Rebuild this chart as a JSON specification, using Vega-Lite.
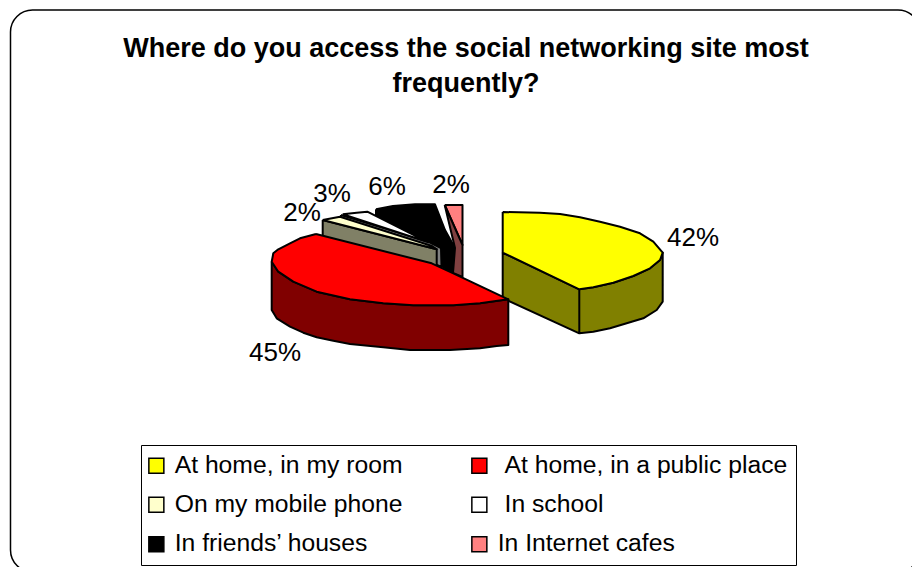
{
  "$schema": "https://vega.github.io/schema/vega-lite/v6.json",
  "width": 912,
  "height": 567,
  "autosize": "none",
  "padding": 0,
  "background": "white",
  "view": {"stroke": null},
  "config": {"font": "Liberation Sans"},
  "title": {
    "text": ["Where do you access the social networking site most", "frequently?"],
    "font": "Liberation Sans",
    "fontSize": 27,
    "fontWeight": "bold",
    "color": "black",
    "anchor": "middle",
    "frame": "group",
    "offset": 0,
    "baseline": "alphabetic",
    "lineHeight": 35,
    "dx": 10,
    "dy": 119
  },
  "datasets": {
    "frame": [{"left": 10.5, "right": 920, "top": 10, "bottom": 572}],
    "slices": [
      {"category": "At home, in my room", "share": 0.42, "lx": 693, "ly": 246},
      {"category": "At home, in a public place", "share": 0.45, "lx": 275, "ly": 361},
      {"category": "Other", "share": 0.02, "lx": 302, "ly": 221},
      {"category": "In school", "share": 0.03, "lx": 332, "ly": 202},
      {"category": "In friends' houses", "share": 0.06, "lx": 387, "ly": 195},
      {"category": "In Internet cafes", "share": 0.02, "lx": 451, "ly": 193}
    ],
    "faces": [
      {"face": "In friends’ houses", "n": 1, "x": 376, "y": 209.3},
      {"face": "In friends’ houses", "n": 2, "x": 393, "y": 206},
      {"face": "In friends’ houses", "n": 3, "x": 415, "y": 204.3},
      {"face": "In friends’ houses", "n": 4, "x": 435, "y": 204.3},
      {"face": "In friends’ houses", "n": 5, "x": 445, "y": 230},
      {"face": "In friends’ houses", "n": 6, "x": 455, "y": 248},
      {"face": "In friends’ houses", "n": 7, "x": 453, "y": 273},
      {"face": "In friends’ houses", "n": 8, "x": 441, "y": 266},
      {"face": "In friends’ houses", "n": 9, "x": 436, "y": 245},
      {"face": "In friends’ houses", "n": 10, "x": 376, "y": 220},
      {"face": "In friends’ houses", "n": 11, "x": 376, "y": 209.3},

      {"face": "In Internet cafes", "n": 1, "x": 444.7, "y": 205},
      {"face": "In Internet cafes", "n": 2, "x": 462.5, "y": 205},
      {"face": "In Internet cafes", "n": 3, "x": 462.5, "y": 245},
      {"face": "In Internet cafes", "n": 4, "x": 444.7, "y": 205},

      {"face": "In Internet cafes, side", "n": 1, "x": 444.7, "y": 205},
      {"face": "In Internet cafes, side", "n": 2, "x": 462.5, "y": 245},
      {"face": "In Internet cafes, side", "n": 3, "x": 462.5, "y": 277},
      {"face": "In Internet cafes, side", "n": 4, "x": 453, "y": 273},
      {"face": "In Internet cafes, side", "n": 5, "x": 455, "y": 248},
      {"face": "In Internet cafes, side", "n": 6, "x": 444.7, "y": 205},

      {"face": "In school, side", "n": 1, "x": 341, "y": 215},
      {"face": "In school, side", "n": 2, "x": 428, "y": 241.5},
      {"face": "In school, side", "n": 3, "x": 441, "y": 248},
      {"face": "In school, side", "n": 4, "x": 441.5, "y": 267},
      {"face": "In school, side", "n": 5, "x": 430, "y": 262},
      {"face": "In school, side", "n": 6, "x": 430, "y": 250},
      {"face": "In school, side", "n": 7, "x": 341, "y": 218},
      {"face": "In school, side", "n": 8, "x": 341, "y": 215},

      {"face": "In school", "n": 1, "x": 342.7, "y": 214.3},
      {"face": "In school", "n": 2, "x": 356.7, "y": 212.7},
      {"face": "In school", "n": 3, "x": 367.3, "y": 211.7},
      {"face": "In school", "n": 4, "x": 428.3, "y": 242.3},
      {"face": "In school", "n": 5, "x": 342.7, "y": 214.3},

      {"face": "On my mobile phone, side", "n": 1, "x": 322.7, "y": 220},
      {"face": "On my mobile phone, side", "n": 2, "x": 436.7, "y": 249.3},
      {"face": "On my mobile phone, side", "n": 3, "x": 436.7, "y": 270},
      {"face": "On my mobile phone, side", "n": 4, "x": 322.7, "y": 240},
      {"face": "On my mobile phone, side", "n": 5, "x": 322.7, "y": 220},

      {"face": "On my mobile phone", "n": 1, "x": 322.7, "y": 220},
      {"face": "On my mobile phone", "n": 2, "x": 340, "y": 216.7},
      {"face": "On my mobile phone", "n": 3, "x": 432, "y": 246},
      {"face": "On my mobile phone", "n": 4, "x": 436.7, "y": 249.3},
      {"face": "On my mobile phone", "n": 5, "x": 322.7, "y": 220},

      {"face": "At home, in my room, side", "n": 1, "x": 502.7, "y": 252.7},
      {"face": "At home, in my room, side", "n": 2, "x": 579.3, "y": 289.3},
      {"face": "At home, in my room, side", "n": 3, "x": 593.3, "y": 287.3},
      {"face": "At home, in my room, side", "n": 4, "x": 613.3, "y": 282.7},
      {"face": "At home, in my room, side", "n": 5, "x": 633.3, "y": 276},
      {"face": "At home, in my room, side", "n": 6, "x": 650, "y": 268.3},
      {"face": "At home, in my room, side", "n": 7, "x": 660, "y": 260},
      {"face": "At home, in my room, side", "n": 8, "x": 662.7, "y": 252.7},
      {"face": "At home, in my room, side", "n": 9, "x": 662.7, "y": 301.7},
      {"face": "At home, in my room, side", "n": 10, "x": 656.7, "y": 310},
      {"face": "At home, in my room, side", "n": 11, "x": 643.3, "y": 318.3},
      {"face": "At home, in my room, side", "n": 12, "x": 626.7, "y": 323.3},
      {"face": "At home, in my room, side", "n": 13, "x": 610, "y": 328.3},
      {"face": "At home, in my room, side", "n": 14, "x": 593.3, "y": 331.7},
      {"face": "At home, in my room, side", "n": 15, "x": 579.3, "y": 333.3},
      {"face": "At home, in my room, side", "n": 16, "x": 579.3, "y": 289.3},
      {"face": "At home, in my room, side", "n": 17, "x": 579.3, "y": 333.3},
      {"face": "At home, in my room, side", "n": 18, "x": 502.7, "y": 298.3},
      {"face": "At home, in my room, side", "n": 19, "x": 502.7, "y": 252.7},

      {"face": "At home, in my room", "n": 1, "x": 502.7, "y": 212},
      {"face": "At home, in my room", "n": 2, "x": 540, "y": 212.7},
      {"face": "At home, in my room", "n": 3, "x": 560, "y": 214},
      {"face": "At home, in my room", "n": 4, "x": 580, "y": 217.3},
      {"face": "At home, in my room", "n": 5, "x": 600, "y": 221.7},
      {"face": "At home, in my room", "n": 6, "x": 620, "y": 226.7},
      {"face": "At home, in my room", "n": 7, "x": 640, "y": 233.3},
      {"face": "At home, in my room", "n": 8, "x": 653.3, "y": 241.7},
      {"face": "At home, in my room", "n": 9, "x": 662.7, "y": 252.7},
      {"face": "At home, in my room", "n": 10, "x": 660, "y": 260},
      {"face": "At home, in my room", "n": 11, "x": 650, "y": 268.3},
      {"face": "At home, in my room", "n": 12, "x": 633.3, "y": 276},
      {"face": "At home, in my room", "n": 13, "x": 613.3, "y": 282.7},
      {"face": "At home, in my room", "n": 14, "x": 593.3, "y": 287.3},
      {"face": "At home, in my room", "n": 15, "x": 579.3, "y": 289.3},
      {"face": "At home, in my room", "n": 16, "x": 502.7, "y": 252.7},
      {"face": "At home, in my room", "n": 17, "x": 502.7, "y": 212},

      {"face": "At home, in a public place, side", "n": 1, "x": 271.7, "y": 261.7},
      {"face": "At home, in a public place, side", "n": 2, "x": 278.3, "y": 271.7},
      {"face": "At home, in a public place, side", "n": 3, "x": 293.3, "y": 281.7},
      {"face": "At home, in a public place, side", "n": 4, "x": 316.7, "y": 291.7},
      {"face": "At home, in a public place, side", "n": 5, "x": 350, "y": 299.3},
      {"face": "At home, in a public place, side", "n": 6, "x": 383.3, "y": 303.3},
      {"face": "At home, in a public place, side", "n": 7, "x": 413.3, "y": 305.3},
      {"face": "At home, in a public place, side", "n": 8, "x": 453.3, "y": 305.3},
      {"face": "At home, in a public place, side", "n": 9, "x": 480, "y": 303.3},
      {"face": "At home, in a public place, side", "n": 10, "x": 508.3, "y": 299.3},
      {"face": "At home, in a public place, side", "n": 11, "x": 508.3, "y": 345},
      {"face": "At home, in a public place, side", "n": 12, "x": 496.7, "y": 346},
      {"face": "At home, in a public place, side", "n": 13, "x": 480, "y": 348.3},
      {"face": "At home, in a public place, side", "n": 14, "x": 450, "y": 350},
      {"face": "At home, in a public place, side", "n": 15, "x": 410, "y": 350},
      {"face": "At home, in a public place, side", "n": 16, "x": 383.3, "y": 347.3},
      {"face": "At home, in a public place, side", "n": 17, "x": 350, "y": 344},
      {"face": "At home, in a public place, side", "n": 18, "x": 333.3, "y": 340.7},
      {"face": "At home, in a public place, side", "n": 19, "x": 316.7, "y": 337.3},
      {"face": "At home, in a public place, side", "n": 20, "x": 303.3, "y": 332.7},
      {"face": "At home, in a public place, side", "n": 21, "x": 290, "y": 326.7},
      {"face": "At home, in a public place, side", "n": 22, "x": 276.7, "y": 318.3},
      {"face": "At home, in a public place, side", "n": 23, "x": 271.7, "y": 310},
      {"face": "At home, in a public place, side", "n": 24, "x": 271.7, "y": 261.7},

      {"face": "At home, in a public place", "n": 1, "x": 316, "y": 234},
      {"face": "At home, in a public place", "n": 2, "x": 431.7, "y": 263.3},
      {"face": "At home, in a public place", "n": 3, "x": 453.3, "y": 273.3},
      {"face": "At home, in a public place", "n": 4, "x": 508.3, "y": 299.3},
      {"face": "At home, in a public place", "n": 5, "x": 480, "y": 303.3},
      {"face": "At home, in a public place", "n": 6, "x": 453.3, "y": 305.3},
      {"face": "At home, in a public place", "n": 7, "x": 413.3, "y": 305.3},
      {"face": "At home, in a public place", "n": 8, "x": 383.3, "y": 303.3},
      {"face": "At home, in a public place", "n": 9, "x": 350, "y": 299.3},
      {"face": "At home, in a public place", "n": 10, "x": 316.7, "y": 291.7},
      {"face": "At home, in a public place", "n": 11, "x": 293.3, "y": 281.7},
      {"face": "At home, in a public place", "n": 12, "x": 278.3, "y": 271.7},
      {"face": "At home, in a public place", "n": 13, "x": 271.7, "y": 261.7},
      {"face": "At home, in a public place", "n": 14, "x": 273.3, "y": 253.3},
      {"face": "At home, in a public place", "n": 15, "x": 278.3, "y": 249.3},
      {"face": "At home, in a public place", "n": 16, "x": 290, "y": 243.3},
      {"face": "At home, in a public place", "n": 17, "x": 300, "y": 238.3},
      {"face": "At home, in a public place", "n": 18, "x": 316, "y": 234}
    ]
  },
  "layer": [
    {
      "data": {"name": "frame"},
      "mark": {"type": "rect", "fill": "white", "stroke": "black", "strokeWidth": 1.5, "cornerRadius": 22, "clip": true},
      "encoding": {
        "x": {"field": "left", "type": "quantitative", "scale": {"domain": [0, 912], "nice": false, "zero": false}, "axis": null},
        "x2": {"field": "right"},
        "y": {"field": "top", "type": "quantitative", "scale": {"domain": [567, 0], "nice": false, "zero": false}, "axis": null},
        "y2": {"field": "bottom"}
      }
    },
    {
      "data": {"name": "faces"},
      "mark": {"type": "line", "stroke": "black", "strokeWidth": 2, "strokeJoin": "round", "interpolate": "linear"},
      "encoding": {
        "x": {"field": "x", "type": "quantitative", "axis": null},
        "y": {"field": "y", "type": "quantitative", "axis": null},
        "order": {"field": "n", "type": "quantitative"},
        "fill": {
          "field": "face",
          "type": "nominal",
          "scale": {
            "domain": [
              "At home, in my room", "At home, in a public place", "On my mobile phone", "In school", "In friends’ houses", "In Internet cafes",
              "At home, in my room, side", "At home, in a public place, side", "On my mobile phone, side", "In school, side", "In Internet cafes, side"
            ],
            "range": [
              "#ffff00", "#ff0000", "#ffffcc", "#ffffff", "#000000", "#ff8080",
              "#808000", "#800000", "#808066", "#808080", "#804040"
            ]
          },
          "legend": {
            "values": ["At home, in my room", "At home, in a public place", "On my mobile phone", "In school", "In friends’ houses", "In Internet cafes"],
            "title": null,
            "orient": "none",
            "legendX": 141,
            "legendY": 445,
            "direction": "horizontal",
            "columns": 2,
            "padding": 8,
            "rowPadding": 13.5,
            "columnPadding": 65,
            "strokeColor": "black",
            "symbolType": "square",
            "symbolSize": 225,
            "symbolOffset": -5,
            "symbolStrokeColor": "black",
            "symbolStrokeWidth": 1.5,
            "symbolOpacity": 1,
            "labelFont": "Liberation Sans",
            "labelFontSize": 24.7,
            "labelColor": "black",
            "labelLimit": 400,
            "labelOffset": 6,
            "labelExpr": "indexof(['At home, in a public place', 'In school'], datum.value) >= 0 ? '\u200b\u00a0' + datum.label : datum.label"
          }
        }
      }
    },
    {
      "data": {"name": "slices"},
      "mark": {"type": "text", "font": "Liberation Sans", "fontSize": 26, "color": "black", "align": "center", "baseline": "alphabetic"},
      "encoding": {
        "x": {"field": "lx", "type": "quantitative", "axis": null},
        "y": {"field": "ly", "type": "quantitative", "axis": null},
        "text": {"field": "share", "type": "quantitative", "format": ".0%"}
      }
    }
  ]
}
